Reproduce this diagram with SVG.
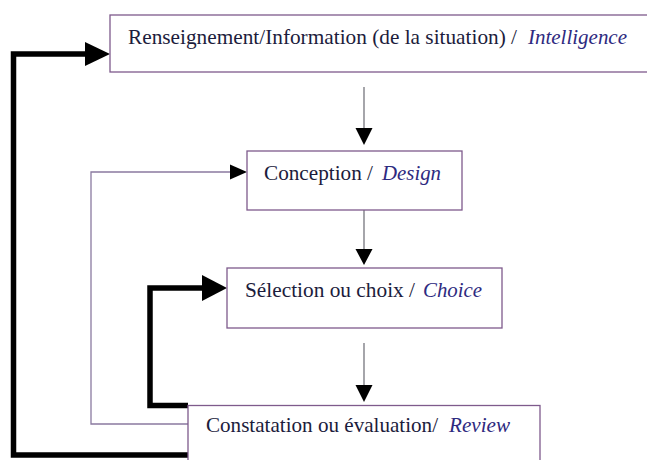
<svg xmlns="http://www.w3.org/2000/svg" width="647" height="460" viewBox="0 0 647 460">
<style>
.box{fill:#fff;stroke:#7e5a8c;stroke-width:1.3}
.lbl{font-family:"Liberation Serif","Times New Roman",serif;font-size:21px;fill:#1c1c3c}
.it{font-style:italic;fill:#2e2a80}
.thin{fill:none;stroke:#6a6a72;stroke-width:1.2}
.fb{fill:none;stroke:#8a7aa0;stroke-width:1.3}
.thick{fill:none;stroke:#000;stroke-width:5.5;stroke-linejoin:miter}
.head{fill:#000}
</style>
<rect width="647" height="460" fill="#fff"/>
<g id="connectors">
  <path class="thin" d="M364,87 V130"/>
  <polygon class="head" points="355.5,128 372.5,128 364,145"/>
  <path class="thin" d="M364,210 V251"/>
  <polygon class="head" points="355.5,249 372.5,249 364,265"/>
  <path class="thin" d="M364,343 V387"/>
  <polygon class="head" points="355.5,385 372.5,385 364,402"/>
  <path class="fb" d="M188,424 H91 V172 H232"/>
  <polygon class="head" points="230,164.5 247,172 230,179.5"/>
  <path class="thick" d="M188,405.5 H150 V288 H204"/>
  <polygon class="head" points="202,275 227,288 202,301"/>
  <path class="thick" d="M188,455 H13.5 V54 H87"/>
  <polygon class="head" points="85,42 110,54 85,66"/>
</g>
<g id="node-intelligence">
  <rect class="box" x="110" y="15" width="545" height="57"/>
  <text class="lbl" x="128" y="44" textLength="389" lengthAdjust="spacingAndGlyphs">Renseignement/Information (de la situation) /</text>
  <text class="lbl it" x="528" y="44" textLength="99" lengthAdjust="spacingAndGlyphs">Intelligence</text>
</g>
<g id="node-design">
  <rect class="box" x="247" y="151" width="215" height="59"/>
  <text class="lbl" x="264" y="180" textLength="109" lengthAdjust="spacingAndGlyphs">Conception /</text>
  <text class="lbl it" x="382" y="180" textLength="59" lengthAdjust="spacingAndGlyphs">Design</text>
</g>
<g id="node-choice">
  <rect class="box" x="227" y="268" width="275" height="60"/>
  <text class="lbl" x="245" y="297" textLength="170" lengthAdjust="spacingAndGlyphs">Sélection ou choix /</text>
  <text class="lbl it" x="423" y="297" textLength="59" lengthAdjust="spacingAndGlyphs">Choice</text>
</g>
<g id="node-review">
  <rect class="box" x="188" y="405.5" width="352" height="70"/>
  <text class="lbl" x="206" y="432" textLength="232" lengthAdjust="spacingAndGlyphs">Constatation ou évaluation/</text>
  <text class="lbl it" x="449" y="432" textLength="61" lengthAdjust="spacingAndGlyphs">Review</text>
</g>
</svg>
